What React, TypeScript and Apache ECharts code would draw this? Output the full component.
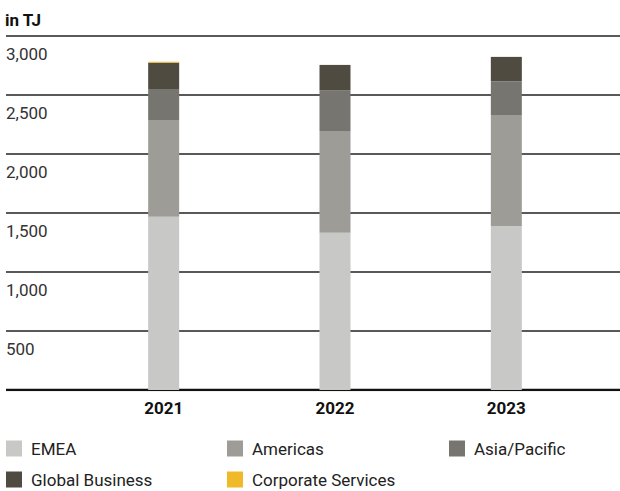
import React, { useEffect, useRef } from "react";
import * as echarts from "echarts";

const categories = ["2021", "2022", "2023"];
const emea = [1469, 1333, 1390];
const americas = [819, 862, 941];
const asiaPacific = [263, 342, 286];
const globalBusiness = [223, 218, 206];
const corporateServices = [8, 0, 0];
const seriesNames = ["EMEA", "Americas", "Asia/Pacific", "Global Business", "Corporate Services"];
const seriesColors = ["#c8c8c6", "#9d9c97", "#76756f", "#4f4b40", "#f0b92a"];
const yTicks = [0, 500, 1000, 1500, 2000, 2500, 3000];

const FONT = "Roboto";

export default function App() {
  const ref = useRef<HTMLDivElement>(null);
  useEffect(() => {
    if (!ref.current) return;
    const chart = echarts.init(ref.current, undefined, { renderer: "svg" });
    const dataSets = [emea, americas, asiaPacific, globalBusiness, corporateServices];
    const legendPos = [
      { left: 6, top: 440 },
      { left: 227, top: 440 },
      { left: 449, top: 440 },
      { left: 6, top: 471 },
      { left: 227, top: 471 },
    ];
    chart.setOption({
      animation: false,
      textStyle: { fontFamily: FONT },
      title: {
        text: "in TJ",
        left: 0,
        top: 6,
        textStyle: { fontFamily: FONT, fontSize: 17, fontWeight: "bold", color: "#111" },
      },
      legend: seriesNames.map((n, i) => ({
        data: [n],
        left: legendPos[i].left,
        top: legendPos[i].top,
        padding: 0,
        itemWidth: 16,
        itemHeight: 16,
        icon: "rect",
        selectedMode: false,
        textStyle: { fontFamily: FONT, fontSize: 17, color: "#222", padding: [0, 0, 0, 4] },
      })),
      grid: [
        { left: 6, right: 0, top: 36, height: 354 },
        { left: 78, right: 28, top: 36, height: 354 },
      ],
      xAxis: [
        { type: "value", gridIndex: 0, show: false, min: 0, max: 1 },
        {
          type: "category",
          gridIndex: 1,
          data: categories,
          axisLine: { show: false },
          axisTick: { show: false },
          axisLabel: { fontFamily: FONT, fontSize: 17, fontWeight: "bold", color: "#111", margin: 9 },
        },
      ],
      yAxis: [
        {
          type: "value",
          gridIndex: 0,
          min: 0,
          max: 3000,
          interval: 500,
          axisLine: { show: false },
          axisTick: { show: false },
          splitLine: {
            lineStyle: { color: "#222", width: 1.5 },
          },
          axisLabel: {
            inside: true,
            margin: 0,
            verticalAlign: "top",
            padding: [9, 0, 0, 0],
            fontFamily: FONT,
            fontSize: 17,
            color: "#333",
            formatter: (v: number) => (v === 0 ? "" : v.toLocaleString("en-US")),
          },
        },
        { type: "value", gridIndex: 1, min: 0, max: 3000, interval: 500, show: false },
      ],
      series: [
        {
          type: "line",
          xAxisIndex: 0,
          yAxisIndex: 0,
          data: [[0, yTicks[0]], [1, yTicks[0]]],
          symbol: "none",
          lineStyle: { color: "#111", width: 2.5 },
          silent: true,
          z: 1,
        },
        ...seriesNames.map((n, i) => ({
          name: n,
          type: "bar",
          stack: "total",
          xAxisIndex: 1,
          yAxisIndex: 1,
          barWidth: 31,
          data: dataSets[i],
          itemStyle: { color: seriesColors[i] },
          z: 3,
        })),
      ],
    });
    return () => chart.dispose();
  }, []);
  return <div ref={ref} style={{ width: 620, height: 491, position: "absolute", left: 0, top: 0 }} />;
}
